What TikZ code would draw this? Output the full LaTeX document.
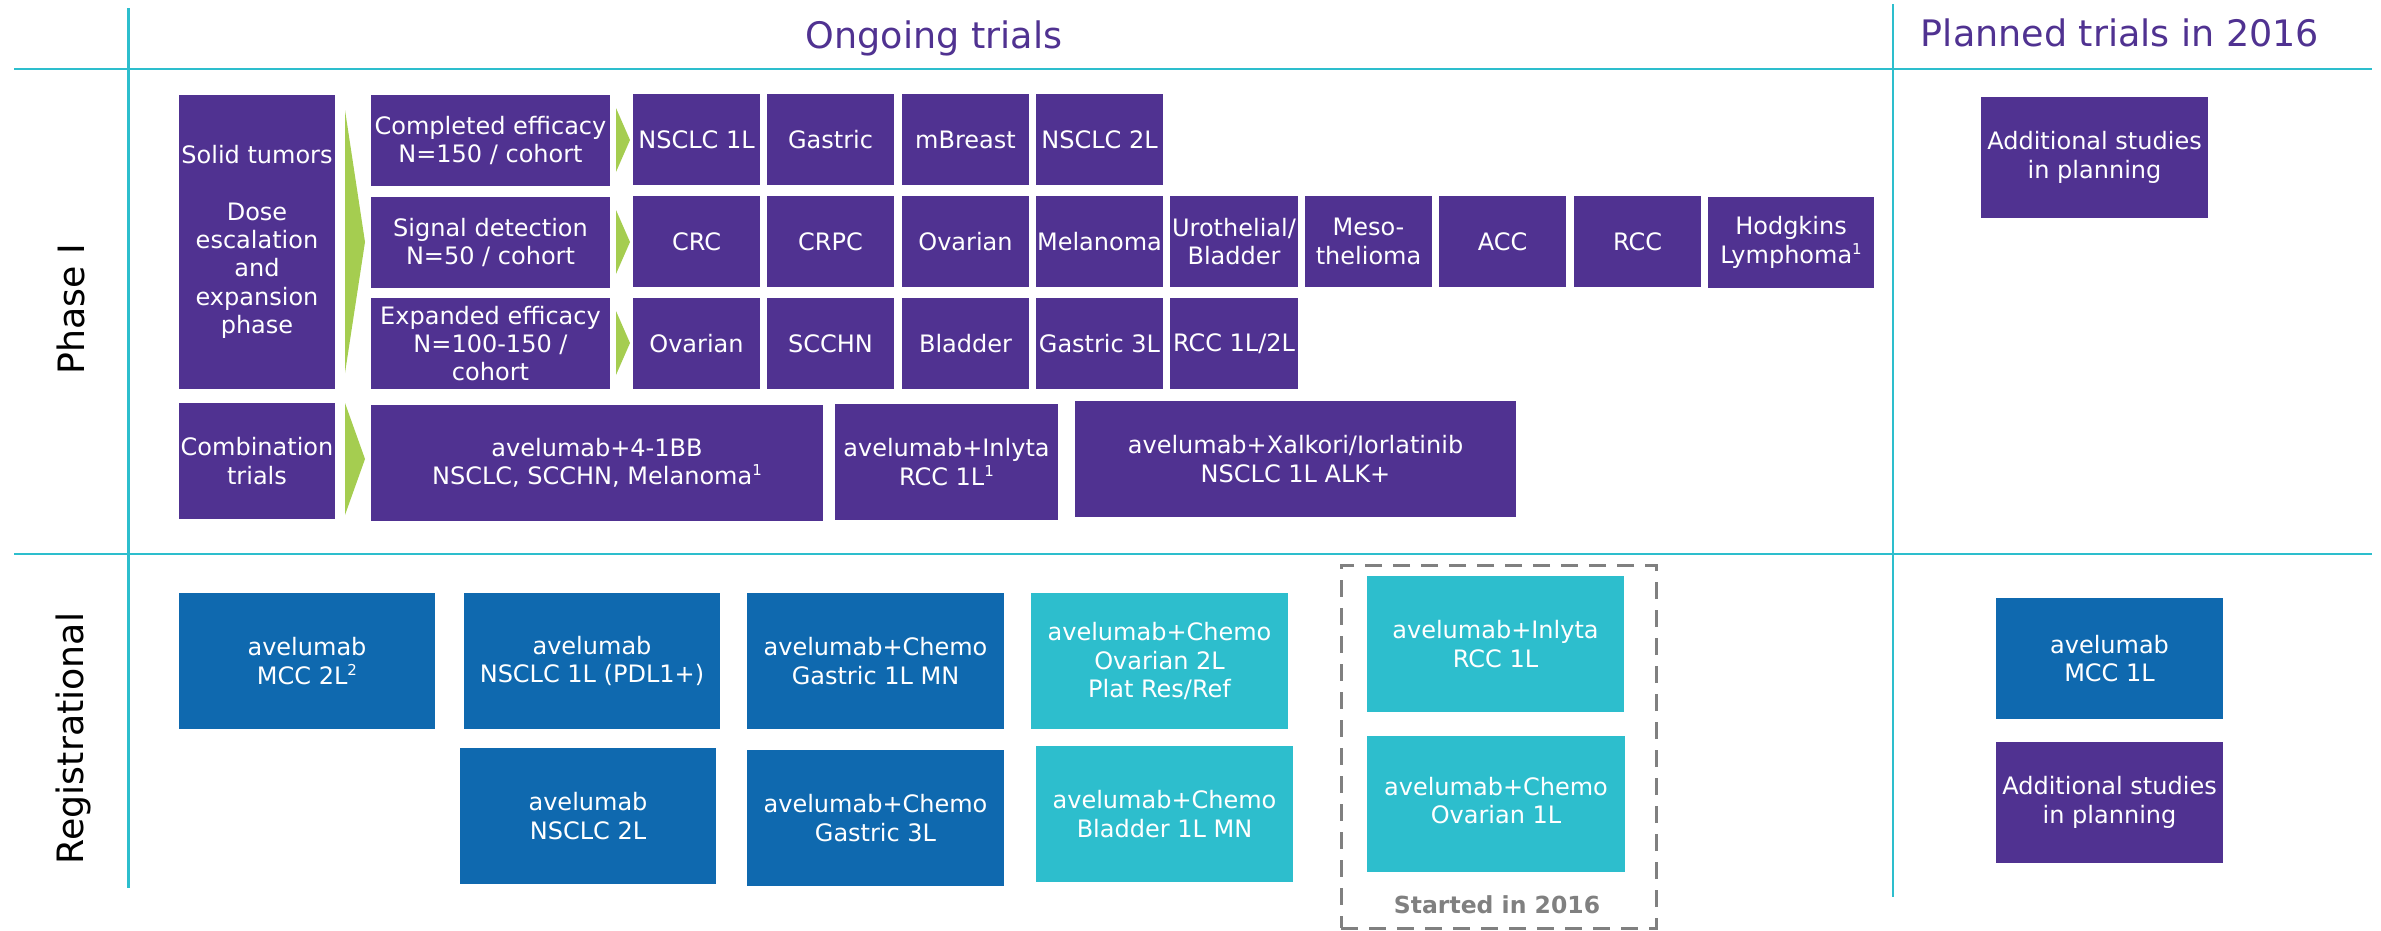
\documentclass[tikz,border=0pt]{standalone}
\usepackage{fontspec}
\setmainfont{DejaVu Sans}
\definecolor{mpurple}{RGB}{80,50,145}
\definecolor{mblue}{RGB}{15,105,175}
\definecolor{mcyan}{RGB}{45,190,205}
\definecolor{mgreen}{RGB}{165,205,80}
\definecolor{mgray}{RGB}{128,128,128}
\newcommand\tbox[7]{\node[tb, fill=#6, minimum width={(#4-#2)*1bp}, minimum height={(#5-#3)*1bp}] (#1) at ({(#2+#4)/2},{(#3+#5)/2}) {#7};}
\newcommand\supx[1]{\raisebox{9bp}{\fontsize{15bp}{15bp}\selectfont #1}}
\begin{document}
\begin{tikzpicture}[x=1bp,y=-1bp,
  tb/.style={rectangle, inner sep=0pt, text=white, align=center, font=\fontsize{24bp}{28.3bp}\selectfont},
  sep/.style={draw=mcyan, line width=2.5bp},
  title/.style={anchor=base, text=mpurple, font=\fontsize{36.5bp}{40bp}\selectfont},
  side/.style={anchor=base, rotate=90, text=black, font=\fontsize{36.3bp}{40bp}\selectfont},
  chev/.style={fill=mgreen}]
\useasboundingbox (0,0) rectangle (2381,930);
% separator lines
\coordinate (h1a) at (14,69); \coordinate (h1b) at (2372,69);
\coordinate (h2a) at (14,554); \coordinate (h2b) at (2372,554);
\coordinate (v1a) at (128.6,8); \coordinate (v1b) at (128.6,888);
\coordinate (v2a) at (1893,4); \coordinate (v2b) at (1893,897);
\draw[sep] (h1a) -- (h1b);
\draw[sep] (h2a) -- (h2b);
\draw[sep] (v1a) -- (v1b);
\draw[sep] (v2a) -- (v2b);
% titles
\node[title] (t1) at (934,48) {Ongoing trials};
\node[title] (t2) at (2120,46) {Planned trials in 2016};
\node[side] (s1) at (84,309) {Phase I};
\node[side] (s2) at (83,738.5) {Registrational};
% phase I
\tbox{sol}{179}{95}{335}{389}{mpurple}{Solid tumors\\[28.3bp]Dose\\escalation\\and\\expansion\\phase}
\tbox{comp}{371}{95}{610}{186}{mpurple}{Completed efficacy\\N=150 / cohort}
\tbox{sig}{371}{197}{610}{288}{mpurple}{Signal detection\\N=50 / cohort}
\tbox{expd}{371}{298}{610}{389}{mpurple}{Expanded efficacy\\N=100-150 /\\cohort}
\tbox{a1}{633}{94}{760}{185}{mpurple}{NSCLC 1L}
\tbox{a2}{767}{94}{894}{185}{mpurple}{Gastric}
\tbox{a3}{902}{94}{1029}{185}{mpurple}{mBreast}
\tbox{a4}{1036}{94}{1163}{185}{mpurple}{NSCLC 2L}
\tbox{b1}{633}{196}{760}{287}{mpurple}{CRC}
\tbox{b2}{767}{196}{894}{287}{mpurple}{CRPC}
\tbox{b3}{902}{196}{1029}{287}{mpurple}{Ovarian}
\tbox{b4}{1036}{196}{1163}{287}{mpurple}{Melanoma}
\tbox{b5}{1170}{196}{1298}{287}{mpurple}{Urothelial/\\Bladder}
\tbox{b6}{1305}{196}{1432}{287}{mpurple}{Meso-\\thelioma}
\tbox{b7}{1439}{196}{1566}{287}{mpurple}{ACC}
\tbox{b8}{1574}{196}{1701}{287}{mpurple}{RCC}
\tbox{b9}{1708}{197}{1874}{288}{mpurple}{Hodgkins\\Lymphoma\supx{1}}
\tbox{c1}{633}{298}{760}{389}{mpurple}{Ovarian}
\tbox{c2}{767}{298}{894}{389}{mpurple}{SCCHN}
\tbox{c3}{902}{298}{1029}{389}{mpurple}{Bladder}
\tbox{c4}{1036}{298}{1163}{389}{mpurple}{Gastric 3L}
\tbox{c5}{1170}{298}{1298}{389}{mpurple}{RCC 1L/2L}
\tbox{comb}{179}{403}{335}{519}{mpurple}{Combination\\trials}
\tbox{d1}{371}{405}{823}{521}{mpurple}{avelumab+4-1BB\\NSCLC, SCCHN, Melanoma\supx{1}}
\tbox{d2}{835}{404}{1058}{520}{mpurple}{avelumab+Inlyta\\RCC 1L\supx{1}}
\tbox{d3}{1075}{401}{1516}{517}{mpurple}{avelumab+Xalkori/Iorlatinib\\NSCLC 1L ALK+}
\tbox{p1}{1981}{97}{2208}{218}{mpurple}{Additional studies\\in planning}
% chevrons
\fill[chev] (345,110) -- (365,242) -- (345,373) -- cycle;
\fill[chev] (345,403) -- (365,459) -- (345,515) -- cycle;
\fill[chev] (616,108) -- (630,140) -- (616,172) -- cycle;
\fill[chev] (616,210) -- (630,242) -- (616,274) -- cycle;
\fill[chev] (616,311) -- (630,343) -- (616,375) -- cycle;
% registrational
\node[draw=mgray, line width=3bp, dash pattern=on 17bp off 11bp, minimum width=315bp, minimum height=363bp, inner sep=0pt] (started) at (1498.5,746.5) {};
\tbox{r1}{179}{593}{435}{729}{mblue}{avelumab\\MCC 2L\supx{2}}
\tbox{r2}{464}{593}{720}{729}{mblue}{avelumab\\NSCLC 1L (PDL1+)}
\tbox{r3}{747}{593}{1004}{729}{mblue}{avelumab+Chemo\\Gastric 1L MN}
\tbox{r4}{1031}{593}{1288}{729}{mcyan}{avelumab+Chemo\\Ovarian 2L\\Plat Res/Ref}
\tbox{r5}{460}{748}{716}{884}{mblue}{avelumab\\NSCLC 2L}
\tbox{r6}{747}{750}{1004}{886}{mblue}{avelumab+Chemo\\Gastric 3L}
\tbox{r7}{1036}{746}{1293}{882}{mcyan}{avelumab+Chemo\\Bladder 1L MN}
\tbox{r8}{1367}{576}{1624}{712}{mcyan}{avelumab+Inlyta\\RCC 1L}
\tbox{r9}{1367}{736}{1625}{872}{mcyan}{\raisebox{15bp}{\begin{tabular}{@{}c@{}}avelumab+Chemo\\Ovarian 1L\end{tabular}}}
\node[anchor=base, text=mgray, font=\fontsize{23.5bp}{26bp}\selectfont\bfseries] (st) at (1497,913) {Started in 2016};
\tbox{q1}{1996}{598}{2223}{719}{mblue}{avelumab\\MCC 1L}
\tbox{q2}{1996}{742}{2223}{863}{mpurple}{Additional studies\\in planning}
\end{tikzpicture}
\end{document}
